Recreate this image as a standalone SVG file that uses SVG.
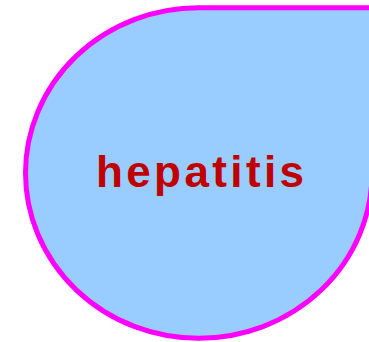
<svg xmlns="http://www.w3.org/2000/svg" width="369" height="342" viewBox="0 0 369 342">
<style>
.shape{fill:#99ccff;stroke:#ff00ff;stroke-width:5}
.lbl{font-family:"Liberation Sans",Arial,sans-serif;font-weight:bold;font-size:44px;fill:#c00000}
</style>
<rect width="369" height="342" fill="#ffffff"/>
<g id="node-hepatitis">
<path class="shape" d="M25.5,173 A173,165.25 0 0 1 198.5,7.75 L372,7.75 L372,173 A173,165.25 0 0 1 198.5,338.25 A173,165.25 0 0 1 25.5,173 Z"/>
<text class="lbl" x="96" y="187" textLength="208" lengthAdjust="spacing">hepatitis</text>
</g>
</svg>
